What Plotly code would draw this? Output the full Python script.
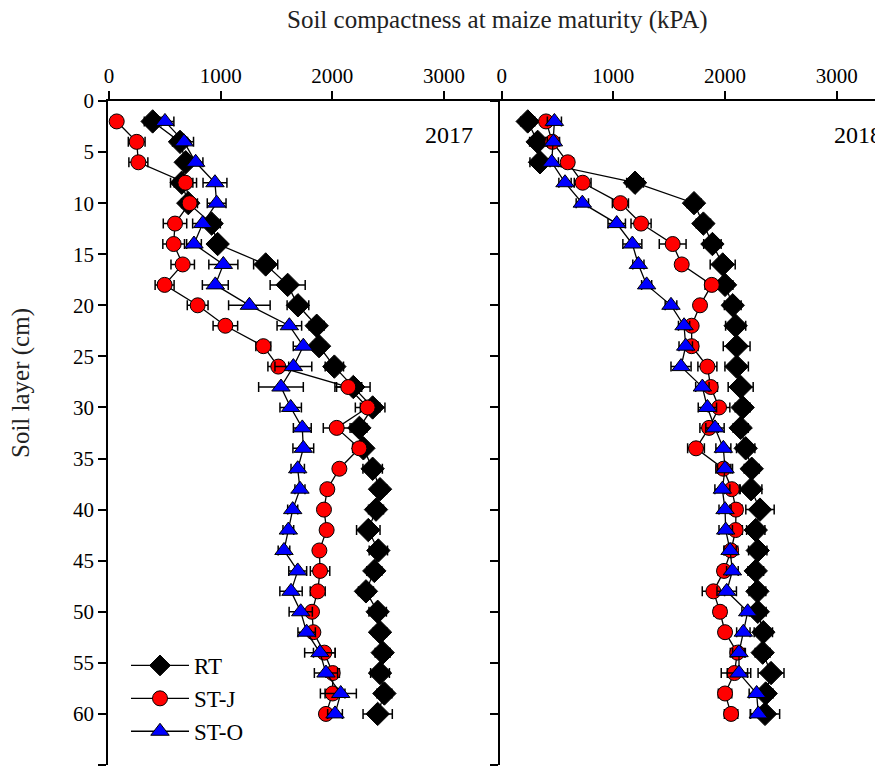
import plotly.graph_objects as go

depth = list(range(2, 62, 2))

rt_2017 = [391, 636, 687, 651, 710, 919, 973, 1403, 1600, 1692, 1860, 1881, 2018, 2188, 2361,
           2242, 2278, 2361, 2427, 2391, 2322, 2412, 2376, 2301, 2406, 2427, 2451, 2427, 2466, 2406]
stj_2017 = [69, 248, 263, 684, 722, 591, 579, 660, 498, 794, 1042, 1382, 1516, 2143, 2316,
            2039, 2242, 2063, 1955, 1925, 1949, 1884, 1890, 1869, 1818, 1830, 1928, 2003, 2003, 1943]
sto_2017 = [501, 672, 776, 949, 964, 839, 761, 1024, 952, 1257, 1615, 1740, 1651, 1540, 1627,
            1731, 1740, 1690, 1710, 1645, 1606, 1567, 1690, 1630, 1717, 1770, 1889, 1943, 2075, 2024]

rt_2018 = [233, 322, 343, 1194, 1722, 1806, 1887, 1979, 2000, 2069, 2095, 2104, 2104, 2140, 2158,
           2140, 2185, 2239, 2233, 2313, 2275, 2293, 2275, 2290, 2293, 2343, 2337, 2412, 2364, 2358]
stj_2018 = [397, 454, 591, 725, 1063, 1248, 1531, 1612, 1881, 1776, 1701, 1701, 1842, 1872, 1946,
            1857, 1740, 1985, 2060, 2098, 2095, 2054, 1991, 1896, 1955, 2000, 2110, 2084, 2000, 2054]
sto_2018 = [472, 463, 448, 567, 722, 1030, 1170, 1224, 1298, 1516, 1633, 1648, 1606, 1797, 1842,
            1910, 1985, 2000, 1976, 2000, 2006, 2045, 2066, 2015, 2203, 2164, 2125, 2125, 2283, 2298]

rt_2017_err = [75, 67, 55, 100, 60, 78, 42, 108, 157, 97, 67, 57, 82, 150, 110,
               67, 45, 87, 60, 67, 105, 82, 67, 67, 78, 60, 67, 84, 67, 131]
stj_2017_err = [47, 75, 85, 100, 70, 105, 97, 105, 85, 93, 110, 67, 93, 120, 110,
                120, 60, 50, 52, 45, 50, 33, 87, 67, 42, 42, 97, 60, 110, 45]
sto_2017_err = [80, 85, 65, 107, 84, 90, 66, 130, 116, 186, 110, 90, 165, 200, 96,
                80, 93, 60, 45, 45, 48, 52, 80, 100, 104, 78, 137, 104, 140, 66]
rt_2018_err = [63, 72, 90, 75, 63, 64, 78, 112, 70, 75, 90, 120, 105, 112, 67,
               67, 82, 67, 97, 127, 82, 82, 70, 75, 75, 82, 67, 116, 67, 131]
stj_2018_err = [48, 45, 52, 75, 72, 90, 120, 50, 60, 48, 45, 57, 85, 60, 97,
                82, 75, 67, 67, 55, 60, 60, 52, 100, 55, 50, 63, 118, 60, 60]
sto_2018_err = [63, 55, 60, 55, 55, 78, 85, 50, 45, 52, 50, 60, 90, 60, 82,
                82, 67, 67, 67, 54, 60, 55, 52, 87, 52, 60, 57, 105, 67, 70]

series_names = ["RT", "ST-J", "ST-O"]
years = ["2017", "2018"]
x_ticks = [0, 1000, 2000, 3000]
y_ticks = list(range(0, 70, 5))

FONT = "Liberation Serif"

styles = {
    "RT": dict(symbol="diamond", color="black", size=18, line=dict(color="black", width=1)),
    "ST-J": dict(symbol="circle", color="#ff0000", size=15, line=dict(color="black", width=1)),
    "ST-O": dict(symbol="triangle-up", color="#0000ff", size=16, line=dict(color="black", width=1)),
}

data = {
    ("2017", "RT"): (rt_2017, rt_2017_err),
    ("2017", "ST-J"): (stj_2017, stj_2017_err),
    ("2017", "ST-O"): (sto_2017, sto_2017_err),
    ("2018", "RT"): (rt_2018, rt_2018_err),
    ("2018", "ST-J"): (stj_2018, stj_2018_err),
    ("2018", "ST-O"): (sto_2018, sto_2018_err),
}

fig = go.Figure()
for yi, yr in enumerate(years):
    xa = "x" if yi == 0 else "x2"
    ya = "y" if yi == 0 else "y2"
    for name in series_names:
        vals, errs = data[(yr, name)]
        fig.add_trace(go.Scatter(
            x=vals, y=depth, xaxis=xa, yaxis=ya,
            mode="lines+markers", name=name,
            showlegend=(yi == 0),
            line=dict(color="black", width=1.3),
            marker=styles[name],
            error_x=dict(type="data", array=errs, visible=True,
                         color="black", thickness=1.5, width=5),
            cliponaxis=False,
        ))

W, H = 875, 772
ml, mt, mb = 108, 101, 7
pw = W - ml
ph = H - mt - mb
split = (500 - ml) / pw
pxk = 111.67 / 1000.0  # pixels per kPa

axis_common = dict(
    showline=True, linecolor="black", linewidth=1.5,
    ticks="outside", ticklen=8, tickwidth=1.5, tickcolor="black",
    showgrid=False, zeroline=False,
    tickfont=dict(family=FONT, size=21, color="black"),
)

fig.update_layout(
    width=W, height=H,
    margin=dict(l=ml, r=0, t=mt, b=mb),
    paper_bgcolor="white", plot_bgcolor="white",
    font=dict(family=FONT, size=21, color="black"),
    xaxis=dict(domain=[0, split], range=[-1 / pxk, (500 - 109) / pxk],
               side="top", tickvals=x_ticks, anchor="y", **axis_common),
    xaxis2=dict(domain=[split, 1], range=[-(501.7 - 500) / pxk, (875 - 501.7) / pxk],
                side="top", tickvals=x_ticks, anchor="y2", **axis_common),
    yaxis=dict(range=[65, 0], tickvals=y_ticks, anchor="x", **axis_common),
    yaxis2=dict(range=[65, 0], tickvals=y_ticks, anchor="x2", showticklabels=False,
                **axis_common),
    legend=dict(x=(126 - ml) / pw, y=(H - mb - 644) / ph, xanchor="left", yanchor="top",
                itemwidth=58,
                bgcolor="rgba(0,0,0,0)", font=dict(family=FONT, size=23, color="black"),
                tracegroupgap=0),
    showlegend=True,
)

fig.add_annotation(text="2017", x=2812, y=3.3, xref="x", yref="y", showarrow=False,
                   xanchor="left", yanchor="middle", font=dict(family=FONT, size=24, color="black"))
fig.add_annotation(text="2018", x=2958, y=3.3, xref="x2", yref="y2", showarrow=False,
                   xanchor="left", yanchor="middle", font=dict(family=FONT, size=24, color="black"))
fig.add_annotation(text="Soil compactness at maize maturity (kPA)",
                   x=(497 - ml) / pw, y=(H - mb - 20) / ph, xref="paper", yref="paper",
                   showarrow=False, xanchor="center", yanchor="middle",
                   font=dict(family=FONT, size=25, color="#222222"))
fig.add_annotation(text="Soil layer (cm)", textangle=-90,
                   x=(21 - ml) / pw, y=(H - mb - 383) / ph, xref="paper", yref="paper",
                   showarrow=False, xanchor="center", yanchor="middle",
                   font=dict(family=FONT, size=25, color="#222222"))

fig.write_html("out.html")
